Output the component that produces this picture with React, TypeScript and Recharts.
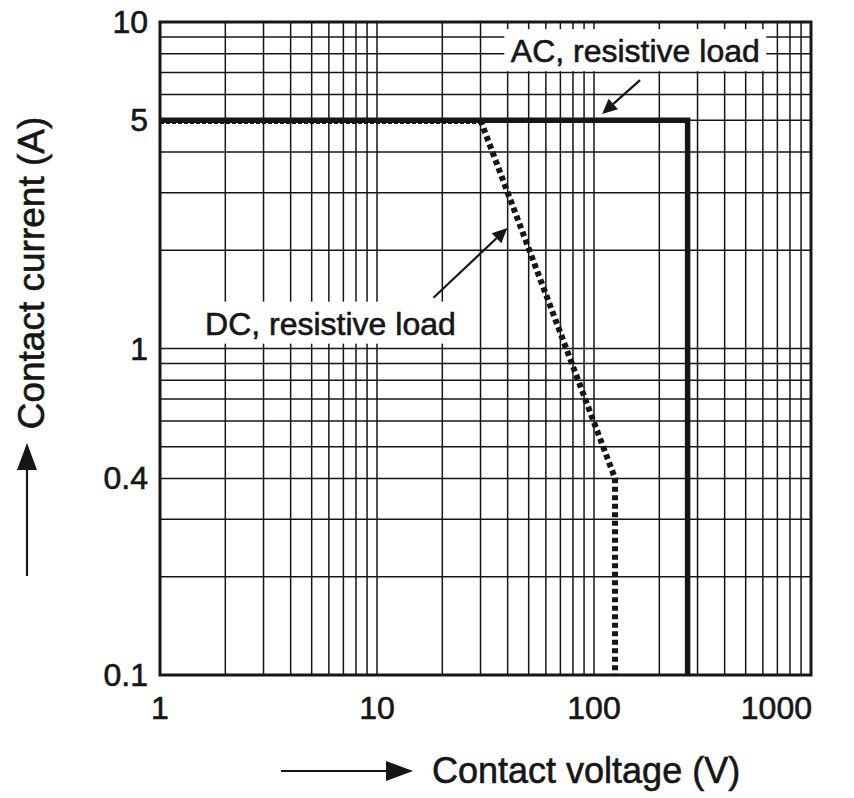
import React from 'react';
import {
  CartesianGrid,
  Line,
  LineChart,
  ReferenceArea,
  ReferenceDot,
  ReferenceLine,
  XAxis,
  YAxis,
} from 'recharts';

// AC limit (thick solid)
const acVoltage = [1, 270, 270];
const acCurrent = [5, 5, 0.1];

// DC limit: thin dashed part along 5 A, then thick dotted part
const dcFlatVoltage = [1, 30];
const dcFlatCurrent = [5, 5];
const dcVoltage = [30, 125, 125];
const dcCurrent = [5, 0.4, 0.1];

const xGrid = [1, 2, 3, 4, 5, 6, 7, 8, 9, 10, 20, 30, 40, 50, 60, 70, 80, 90, 100, 200, 300, 400, 500, 600, 700, 800, 900, 1000];
const xLabels = [1, 10, 100, 1000];
const yGrid = [0.1, 0.2, 0.3, 0.4, 0.5, 0.6, 0.7, 0.8, 0.9, 1, 2, 3, 4, 5, 6, 7, 8, 9, 10];
const yLabels = [0.1, 0.4, 1, 5, 10];

const toRows = (xs: number[], ys: number[]) => xs.map((v, i) => ({ v, a: ys[i] }));

const acData = toRows(acVoltage, acCurrent);
const dcFlatData = toRows(dcFlatVoltage, dcFlatCurrent);
const dcData = toRows(dcVoltage, dcCurrent);

const FONT = '"Liberation Sans", Arial, Helvetica, sans-serif';
const INK = '#161616';
const textStyle = { fill: INK, stroke: INK, strokeWidth: 0.6, fontFamily: FONT };

const XTick = ({ x, y, payload }: any) => {
  if (!xLabels.includes(payload.value)) return null;
  const last = payload.value === 1000;
  return (
    <text x={last ? x + 1 : x} y={y + 42} textAnchor={last ? 'end' : 'middle'} fontSize={32} {...textStyle}>
      {payload.value}
    </text>
  );
};

const YTick = ({ x, y, payload }: any) => {
  if (!yLabels.includes(payload.value)) return null;
  return (
    <text x={x - 10} y={y + 11} textAnchor="end" fontSize={32} {...textStyle}>
      {payload.value}
    </text>
  );
};

const Note = (text: string, w: number) => (props: any) => {
  const { cx, cy } = props;
  return (
    <g>
      <rect x={cx - w / 2} y={cy - 21} width={w} height={42} fill="#fff" />
      <text x={cx} y={cy + 12} textAnchor="middle" fontSize={32} {...textStyle}>
        {text}
      </text>
    </g>
  );
};

const Arrow = (props: any) => {
  const { x1, y1, x2, y2 } = props;
  const ang = Math.atan2(y2 - y1, x2 - x1);
  const len = 15;
  const half = 7;
  const bx = x2 - len * Math.cos(ang);
  const by = y2 - len * Math.sin(ang);
  const px = -Math.sin(ang) * half;
  const py = Math.cos(ang) * half;
  return (
    <g>
      <line x1={x1} y1={y1} x2={bx} y2={by} stroke={INK} strokeWidth={2.2} />
      <polygon points={`${x2},${y2} ${bx + px},${by + py} ${bx - px},${by - py}`} fill={INK} />
    </g>
  );
};

export default function App() {
  return (
    <div style={{ position: 'absolute', left: 0, top: 0, width: 854, height: 798, background: '#fff' }}>
      <style>{`.dc-flat .recharts-curve { transform: translateY(3px); }`}</style>
      <LineChart width={854} height={798} margin={{ top: 22, right: 43, bottom: 73, left: 100 }}>
        <CartesianGrid stroke={INK} strokeWidth={1.5} horizontalValues={yGrid} verticalValues={xGrid} />
        <XAxis
          dataKey="v"
          type="number"
          scale="log"
          domain={[1, 1000]}
          ticks={xGrid}
          interval={0}
          allowDataOverflow
          axisLine={false}
          tickLine={false}
          tickSize={0}
          height={50}
          tick={<XTick />}
        />
        <YAxis
          dataKey="a"
          type="number"
          scale="log"
          domain={[0.1, 10]}
          ticks={yGrid}
          interval={0}
          allowDataOverflow
          axisLine={false}
          tickLine={false}
          tickSize={0}
          width={60}
          tick={<YTick />}
        />
        <ReferenceArea x1={1} x2={1000} y1={0.1} y2={10} fill="none" stroke={INK} strokeWidth={3} ifOverflow="visible" />
        <Line className="dc-flat" data={dcFlatData} dataKey="a" stroke={INK} strokeWidth={1.5} strokeDasharray="4 2" dot={false} isAnimationActive={false} />
        <Line data={acData} dataKey="a" stroke={INK} strokeWidth={5.5} dot={false} isAnimationActive={false} />
        <Line data={dcData} dataKey="a" stroke={INK} strokeWidth={6} strokeDasharray="5 3.5" dot={false} isAnimationActive={false} />
        <ReferenceDot x={155} y={8.2} r={0} ifOverflow="visible" shape={Note('AC, resistive load', 262)} />
        <ReferenceDot x={6.1} y={1.2} r={0} ifOverflow="visible" shape={Note('DC, resistive load', 262)} />
        <ReferenceLine segment={[{ x: 163, y: 6.64 }, { x: 109, y: 5.23 }]} ifOverflow="visible" shape={Arrow} />
        <ReferenceLine segment={[{ x: 18.2, y: 1.43 }, { x: 39.9, y: 2.34 }]} ifOverflow="visible" shape={Arrow} />
      </LineChart>
      <svg width={854} height={798} style={{ position: 'absolute', left: 0, top: 0, pointerEvents: 'none' }}>
        <text transform="translate(44,273) rotate(-90)" textAnchor="middle" fontSize={37} {...textStyle}>
          Contact current (A)
        </text>
        <line x1={27} y1={576} x2={27} y2={465} stroke={INK} strokeWidth={2.2} />
        <polygon points="27,443 17,470 37,470" fill={INK} />
        <text x={432} y={783} fontSize={36} {...textStyle}>
          Contact voltage (V)
        </text>
        <line x1={281} y1={771} x2={390} y2={771} stroke={INK} strokeWidth={2.2} />
        <polygon points="413,771 386,761 386,781" fill={INK} />
      </svg>
    </div>
  );
}
